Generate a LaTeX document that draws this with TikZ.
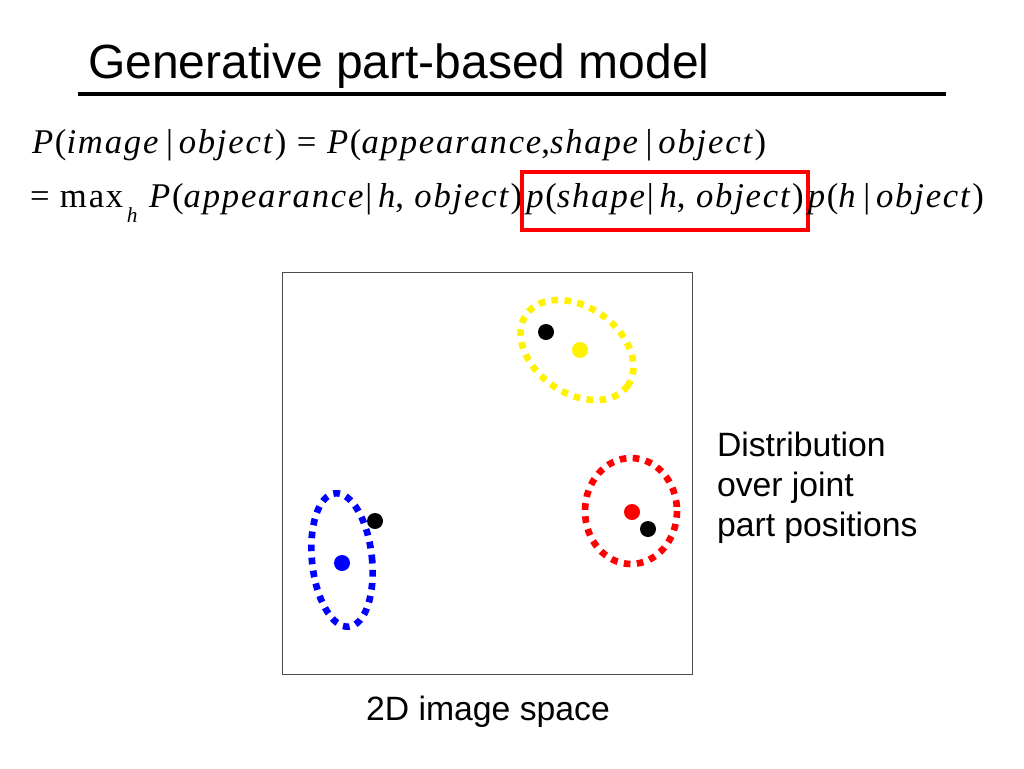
\documentclass[tikz,border=0pt]{standalone}
\usepackage{fontspec}
\setmainfont{Liberation Serif}
\newfontfamily\arialfont{Liberation Sans}
\newfontfamily\eqfont[LetterSpace=5.2]{Liberation Serif}
\usetikzlibrary{positioning}

\newcommand{\iv}[1]{\textit{#1}}
\newcommand{\given}{\,|\,}

\begin{document}
\begin{tikzpicture}[
        x=0.75pt, y=-0.75pt,
        every node/.style={inner sep=0pt, outer sep=0pt},
        eqtext/.style={font=\eqfont\fontsize{26}{31}\selectfont, anchor=base west},
        slidetext/.style={font=\arialfont\fontsize{25.3}{30}\selectfont, align=left},
        dotring/.style={line width=5pt, dash pattern=on 5pt off 4.8pt},
        spot/.style={circle, fill, minimum size=12pt}
        ]
        \useasboundingbox (0,0) rectangle (1024,768);

        % Title
        \node[font=\arialfont\fontsize{36}{43}\selectfont, anchor=base west] (title) at (88,78) {Generative part-based model};
        \draw[line width=3pt] (78,94) -- (946,94);

        % Formula
        \node[eqtext] (line1) at (32,153) {\iv{P}(\iv{image}\given\iv{object}) = \iv{P}(\iv{appearance},\iv{shape}\given\iv{object})};
        \node[eqtext] (line2a) at (30,207) {= max\raisebox{-0.45em}{\fontsize{16}{16}\selectfont\,\iv{h}}\ \iv{P}(\iv{appearance}|\,\iv{h}, \iv{object})};
        \node[eqtext, draw=red, line width=3pt, inner xsep=3pt, text height=26pt, text depth=17pt] (boxed) at (line2a.base east) {\iv{p}(\iv{shape}|\,\iv{h}, \iv{object})};
        \node[eqtext] (line2c) at (boxed.base east) {\iv{p}(\iv{h}\given\iv{object})};

        % Image space
        \node[draw=black!70, line width=0.75pt, minimum width=307.5pt, minimum height=301.5pt] (space) at (487,473) {};
        \node[slidetext, anchor=base] (caption) at (488,720) {2D image space};

        % Parts
        \draw[dotring, yellow, rotate around={-35:(577,350)}] (577,350) ellipse [x radius=62, y radius=43];
        \draw[dotring, red] (631,511) ellipse [x radius=46, y radius=53];
        \draw[dotring, blue, rotate around={6:(342,560)}] (342,560) ellipse [x radius=30, y radius=67];
        \node[spot, yellow] (yellowpart) at (580,350) {};
        \node[spot, black] (yellowmark) at (546,332) {};
        \node[spot, red] (redpart) at (632,512) {};
        \node[spot, black] (redmark) at (648,529) {};
        \node[spot, blue] (bluepart) at (342,563) {};
        \node[spot, black] (bluemark) at (375,521) {};

        % Label
        \node[slidetext, anchor=north west] (distlabel) at (717,432) {Distribution\\over joint\\part positions};

\end{tikzpicture}
\end{document}
